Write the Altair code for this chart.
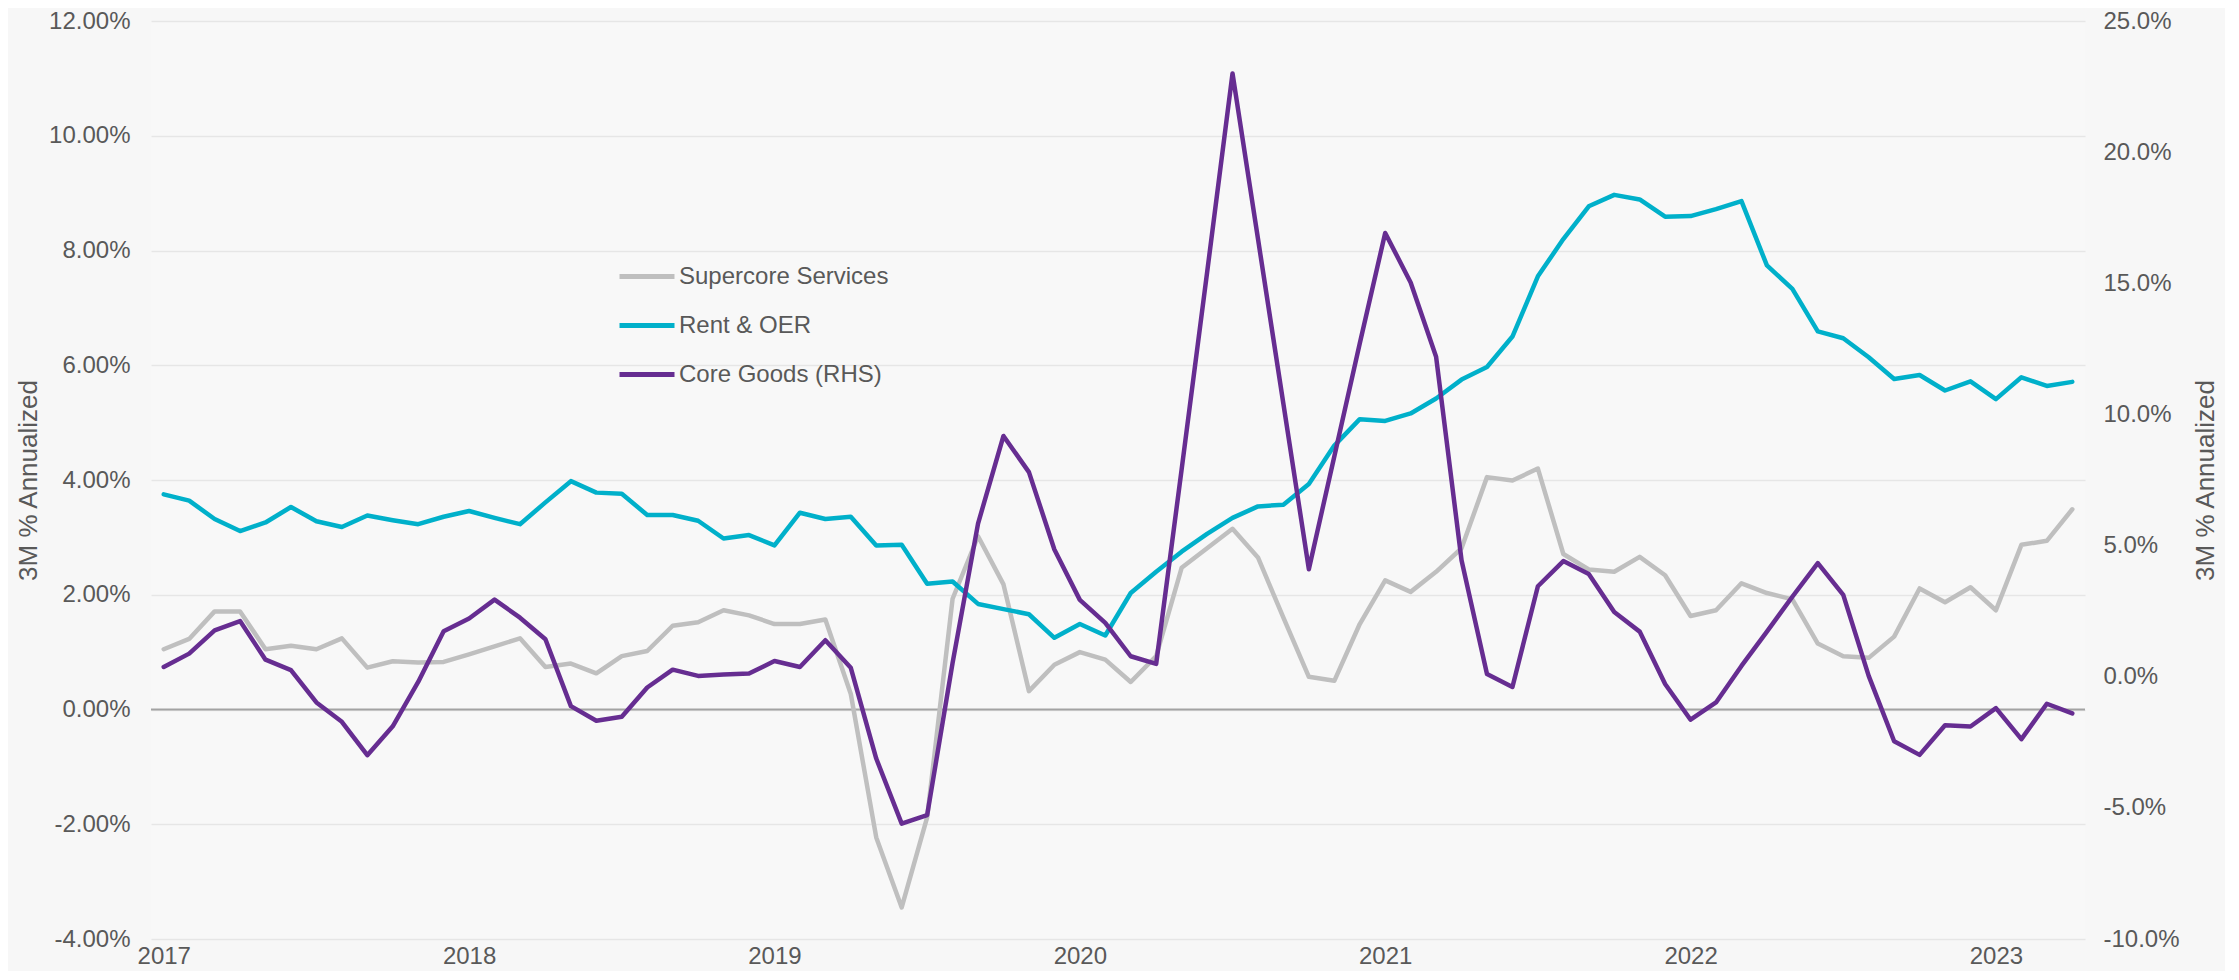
import altair as alt
import pandas as pd

# ---------------- data ----------------
series_names = ["Supercore Services", "Rent & OER", "Core Goods (RHS)"]
series_colors = ["#BFBFBF", "#00B0CA", "#662D91"]
years = ["2017", "2018", "2019", "2020", "2021", "2022", "2023"]

# monthly, Jan 2017 .. Apr 2023, 3M % annualized (percent units)
supercore = [
    1.05, 1.23, 1.71, 1.71, 1.05, 1.11, 1.05, 1.24, 0.73, 0.84, 0.82, 0.83,
    0.96, 1.10, 1.24, 0.74, 0.80, 0.63, 0.93, 1.02, 1.46, 1.52, 1.73, 1.64,
    1.49, 1.49, 1.57, 0.27, -2.23, -3.45, -1.88, 1.93, 3.02, 2.18, 0.32, 0.78,
    1.00, 0.87, 0.48, 0.93, 2.47, 2.81, 3.15, 2.65, 1.60, 0.57, 0.50, 1.49,
    2.25, 2.05, 2.40, 2.81, 4.05, 3.99, 4.20, 2.71, 2.44, 2.40, 2.66, 2.34,
    1.63, 1.73, 2.20, 2.03, 1.92, 1.15, 0.93, 0.90, 1.27, 2.11, 1.87, 2.13,
    1.73, 2.87, 2.94, 3.49,
]
rent_oer = [
    3.75, 3.64, 3.32, 3.11, 3.26, 3.53, 3.28, 3.18, 3.38, 3.30, 3.23, 3.36,
    3.46, 3.34, 3.23, 3.61, 3.98, 3.78, 3.76, 3.39, 3.39, 3.29, 2.98, 3.04,
    2.86, 3.43, 3.32, 3.36, 2.86, 2.87, 2.19, 2.23, 1.84, 1.75, 1.66, 1.25,
    1.49, 1.29, 2.03, 2.40, 2.75, 3.06, 3.34, 3.54, 3.57, 3.93, 4.60, 5.06,
    5.03, 5.16, 5.42, 5.75, 5.97, 6.50, 7.55, 8.20, 8.77, 8.97, 8.89, 8.59,
    8.60, 8.72, 8.86, 7.74, 7.33, 6.59, 6.47, 6.14, 5.76, 5.83, 5.56, 5.72,
    5.41, 5.79, 5.64, 5.71,
]
core_goods = [
    0.37, 0.88, 1.77, 2.12, 0.65, 0.25, -0.98, -1.72, -2.99, -1.89, -0.20, 1.73,
    2.22, 2.94, 2.25, 1.43, -1.12, -1.68, -1.53, -0.41, 0.27, 0.03, 0.08, 0.12,
    0.60, 0.37, 1.39, 0.34, -3.12, -5.60, -5.28, 0.53, 5.84, 9.18, 7.80, 4.85,
    2.93, 2.05, 0.78, 0.49, 7.90, 15.40, 23.00, 16.70, 10.40, 4.10, 8.40, 12.70,
    16.92, 15.03, 12.20, 4.44, 0.10, -0.39, 3.45, 4.41, 3.92, 2.47, 1.72, -0.28,
    -1.64, -0.98, 0.41, 1.72, 3.05, 4.33, 3.12, 0.03, -2.46, -2.98, -1.85, -1.90,
    -1.20, -2.38, -1.03, -1.40,
]
left_ticks = [-4, -2, 0, 2, 4, 6, 8, 10, 12]
right_ticks = [-10, -5, 0, 5, 10, 15, 20, 25]
zero_line = [0]

# ---------------- table ----------------
rows = []
for name, vals in zip(series_names, [supercore, rent_oer, core_goods]):
    for i, v in enumerate(vals):
        rows.append({"m": i, "series": name, "v": v})
df = pd.DataFrame(rows)
n = len(supercore)

GRAY_TXT = "#595959"
FONT = "Liberation Sans"
W, H = 1934, 918

year_arr = "[" + ",".join("'%s'" % y for y in years) + "]"
x_enc = alt.X(
    "m:Q",
    scale=alt.Scale(domain=[-0.5, n - 0.5], nice=False, zero=False),
    axis=alt.Axis(
        values=[12 * i for i in range(len(years))],
        labelExpr=year_arr + "[round(datum.value/12)]",
        grid=False, domain=False, ticks=False, labelPadding=5,
        labelFontSize=24, labelColor=GRAY_TXT, labelFlush=False, title=None,
    ),
)

left_scale = alt.Scale(domain=[left_ticks[0], left_ticks[-1]], nice=False, zero=False)
right_scale = alt.Scale(domain=[right_ticks[0], right_ticks[-1]], nice=False, zero=False)

left_axis = alt.Axis(
    values=left_ticks,
    labelExpr="replace(format(datum.value/100, '.2%'), '\u2212', '-')",
    grid=True, gridColor="#e6e6e6", gridWidth=1.5,
    domain=False, ticks=False, labelPadding=21, labelFontSize=24,
    labelColor=GRAY_TXT, labelFlush=False,
    titleFontSize=26, titleFontWeight="normal", titleColor=GRAY_TXT,
    titleAngle=270, titleBaseline="middle", titleAlign="center",
    titleX=-123, titleY=459,
)
right_axis = alt.Axis(
    orient="right",
    values=right_ticks,
    labelExpr="replace(format(datum.value/100, '.1%'), '\u2212', '-')",
    grid=False, domain=False, ticks=False, labelPadding=18, labelFontSize=24,
    labelColor=GRAY_TXT, labelFlush=False,
    titleFontSize=26, titleFontWeight="normal", titleColor=GRAY_TXT,
    titleAngle=270, titleBaseline="middle", titleAlign="center",
    titleX=120, titleY=459,
)

legend = alt.Legend(
    orient="none", legendX=466, legendY=243, title=None,
    symbolType="stroke", symbolSize=3025, symbolStrokeWidth=5,
    clipHeight=25, rowPadding=24, labelFontSize=24, labelColor=GRAY_TXT,
    labelOffset=2, padding=0, labelLimit=500, direction="vertical",
)
color_enc = alt.Color(
    "series:N",
    scale=alt.Scale(domain=series_names, range=series_colors),
    legend=legend,
)

TITLE = "3M % Annualized"


def series_line(name, scale, axis):
    return (
        alt.Chart(df)
        .transform_filter(alt.datum.series == name)
        .mark_line(strokeWidth=4.5, strokeJoin="round", strokeCap="round")
        .encode(
            x=x_enc,
            y=alt.Y("v:Q", scale=scale, axis=axis, title=TITLE),
            color=color_enc,
        )
    )


zero_rule = (
    alt.Chart(pd.DataFrame({"z": zero_line}))
    .mark_rule(color="#a3a3a3", strokeWidth=2)
    .encode(y=alt.Y("z:Q", scale=left_scale, axis=left_axis, title=TITLE))
)

left = alt.layer(
    zero_rule,
    series_line(series_names[0], left_scale, left_axis),
    series_line(series_names[1], left_scale, left_axis),
)
right = series_line(series_names[2], right_scale, right_axis)

chart = (
    alt.layer(left, right)
    .resolve_scale(y="independent")
    .properties(
        width=W, height=H,
        autosize=alt.AutoSizeParams(type="none"),
        padding={"left": 143, "top": 13, "right": 140, "bottom": 32},
        background="#f7f7f7",
    )
    .configure(font=FONT)
    .configure_view(stroke=None, fill="#f8f8f8")
)

chart.save("out.html", embed_options={"renderer": "svg", "actions": False})
